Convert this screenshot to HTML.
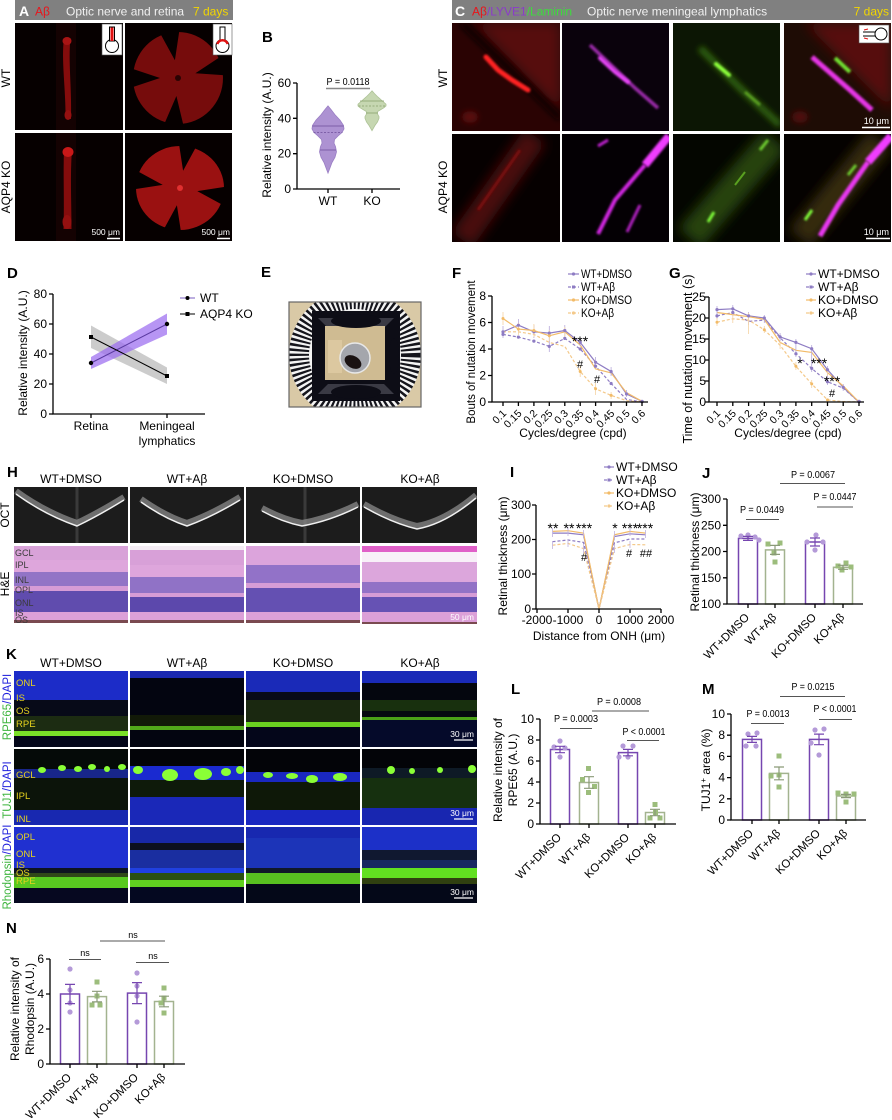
<!DOCTYPE html>
<html><head><meta charset="utf-8"><style>
html,body{margin:0;padding:0;background:#fff;}
svg{display:block;font-family:"Liberation Sans",Arial,sans-serif;}
</style></head><body>
<svg width="892" height="1120" viewBox="0 0 892 1120" xmlns="http://www.w3.org/2000/svg">
<defs>
<filter id="b1" filterUnits="userSpaceOnUse" x="0" y="0" width="892" height="1120"><feGaussianBlur stdDeviation="1"/></filter>
<filter id="b3" filterUnits="userSpaceOnUse" x="0" y="0" width="892" height="1120"><feGaussianBlur stdDeviation="3"/></filter>
<filter id="b6" filterUnits="userSpaceOnUse" x="0" y="0" width="892" height="1120"><feGaussianBlur stdDeviation="6"/></filter>
<clipPath id="cA1"><rect x="15" y="23" width="108" height="107"/></clipPath>
<clipPath id="cA2"><rect x="125" y="23" width="107" height="107"/></clipPath>
<clipPath id="cA3"><rect x="15" y="133" width="108" height="108"/></clipPath>
<clipPath id="cA4"><rect x="125" y="133" width="107" height="108"/></clipPath>
<clipPath id="c11"><rect x="452" y="23" width="108" height="108"/></clipPath>
<clipPath id="c12"><rect x="562" y="23" width="107" height="108"/></clipPath>
<clipPath id="c13"><rect x="673" y="23" width="107" height="108"/></clipPath>
<clipPath id="c14"><rect x="784" y="23" width="107" height="108"/></clipPath>
<clipPath id="c21"><rect x="452" y="134" width="108" height="108"/></clipPath>
<clipPath id="c22"><rect x="562" y="134" width="107" height="108"/></clipPath>
<clipPath id="c23"><rect x="673" y="134" width="107" height="108"/></clipPath>
<clipPath id="c24"><rect x="784" y="134" width="107" height="108"/></clipPath>
<clipPath id="cE"><rect x="289" y="302" width="132" height="105"/></clipPath>
<clipPath id="cH"><rect x="14" y="487" width="463" height="56"/></clipPath>
</defs>

<!-- ===== Panel A ===== -->
<rect x="15" y="0" width="218" height="20" fill="#808080"/>
<text x="19" y="16" font-size="14" font-weight="bold" fill="#fff">A</text>
<text x="35" y="15.5" font-size="12" fill="#e8141b">Aβ</text>
<text x="66" y="15.5" font-size="12" fill="#f0f0f0">Optic nerve and retina</text>
<text x="193" y="15.5" font-size="12" fill="#f2d600">7 days</text>
<text transform="translate(10,78) rotate(-90)" text-anchor="middle" font-size="12">WT</text>
<text transform="translate(10,187) rotate(-90)" text-anchor="middle" font-size="12">AQP4 KO</text>

<g clip-path="url(#cA1)">
<rect x="15" y="23" width="108" height="107" fill="#060000"/>
<rect x="56" y="23" width="20" height="107" fill="#140202"/>
<path d="M64,38 C61,60 66,90 65.5,119 L71,119 C72,90 68,60 70.5,38 Z" fill="#850c0c"/>
<ellipse cx="67" cy="41" rx="4.5" ry="4" fill="#a81414"/>
<ellipse cx="68" cy="115" rx="3.5" ry="5" fill="#951010"/>
</g>
<rect x="102" y="24" width="20" height="31" fill="#fff" stroke="#555" stroke-width="0.6"/>
<circle cx="112" cy="46" r="6.5" fill="#fff" stroke="#000" stroke-width="1"/>
<rect x="109.5" y="27" width="5" height="14" fill="#fff" stroke="#000" stroke-width="1"/>
<rect x="110.5" y="27.5" width="3" height="13.5" fill="#e01010"/>

<g clip-path="url(#cA2)">
<rect x="125" y="23" width="107" height="107" fill="#060000"/>
<ellipse cx="178" cy="78" rx="45" ry="46" fill="#760c0c"/>
<path d="M160,78 L121,91 L121,65 Z M176.4,96 L186,136 L160,134 Z M195.4,73.3 L229.7,50.6 L236.5,76 Z M174.9,60.3 L155.1,24.1 L181,19.6 Z" fill="#060000"/>
<circle cx="178" cy="78" r="3" fill="#2a0303"/>
</g>
<rect x="213" y="24" width="19" height="31" fill="#fff" stroke="#555" stroke-width="0.6"/>
<circle cx="222.5" cy="46" r="6.5" fill="#fff" stroke="#000" stroke-width="1"/>
<rect x="220" y="27" width="5" height="14" fill="#fff" stroke="#000" stroke-width="1"/>
<path d="M217.3,44 A5.5,5.5 0 0 1 227.7,44" stroke="#e01010" stroke-width="2.5" fill="none"/>

<g clip-path="url(#cA3)">
<rect x="15" y="133" width="108" height="108" fill="#060000"/>
<rect x="56" y="133" width="20" height="108" fill="#140202"/>
<path d="M64,150 C63,175 64.5,200 63.5,229 L71.5,229 C71.5,200 70,175 72,150 Z" fill="#850c0c"/>
<ellipse cx="68" cy="152" rx="5.5" ry="5" fill="#c81818"/>
<ellipse cx="67" cy="222" rx="4.5" ry="7" fill="#951010"/>
</g>
<text x="120" y="235" font-size="8.5" fill="#fff" text-anchor="end">500 μm</text>
<path d="M107,238.5 H120" stroke="#fff" stroke-width="1.5"/>

<g clip-path="url(#cA4)">
<rect x="125" y="133" width="107" height="108" fill="#060000"/>
<ellipse cx="180" cy="188" rx="44" ry="42" fill="#9a1111"/>
<path d="M183.1,170.7 L177,130.9 L202.4,135.3 Z M162.7,184.9 L122.9,191 L127.3,165.6 Z M197.3,191.1 L237.1,185 L232.7,210.4 Z M176.9,205.3 L183,245.1 L157.6,240.7 Z" fill="#060000"/>
<circle cx="180" cy="188" r="3" fill="#e03030"/>
</g>
<text x="230" y="235" font-size="8.5" fill="#fff" text-anchor="end">500 μm</text>
<path d="M217,238.5 H230" stroke="#fff" stroke-width="1.5"/>

<!-- ===== Panel B ===== -->
<text x="262" y="42" font-size="15" font-weight="bold">B</text>
<path d="M328,105.9 L331,109.5 L335,114.8 L340,120.1 L343.5,125.4 L344,128.9 L342,132.5 L338,136 L334.5,139.5 L334,143.1 L335.5,146.6 L336.5,151.9 L335,157.2 L332,162.5 L330,167.8 L328,173.1 L326,167.8 L324,162.5 L321,157.2 L319.5,151.9 L320.5,146.6 L322,143.1 L321.5,139.5 L318,136 L314,132.5 L312,128.9 L312.5,125.4 L316,120.1 L321,114.8 L325,109.5 Z" fill="#ad92d2" stroke="#9a7ec4" stroke-width="0.8"/>
<path d="M312.5,126 H343.5 M320,150 H336" stroke="#6d4f9a" stroke-width="0.8"/>
<path d="M313.5,132.5 H342.5" stroke="#6d4f9a" stroke-width="0.8" stroke-dasharray="2,1.5"/>
<path d="M372,90.8 L374.5,93.6 L378,97.1 L382,100.7 L386,104.2 L386,105.9 L384,107.7 L381,109.5 L378,111.3 L377,113 L378,114.8 L379,116.6 L379,118.3 L377.5,121.9 L375,125.4 L372,130.7 L369,125.4 L366.5,121.9 L365,118.3 L365,116.6 L366,114.8 L367,113 L366,111.3 L363,109.5 L360,107.7 L358,105.9 L358,104.2 L362,100.7 L366,97.1 L369.5,93.6 Z" fill="#c6d7b1" stroke="#aec397" stroke-width="0.8"/>
<path d="M360,101 H384 M366,113 H378" stroke="#86a06a" stroke-width="0.8"/>
<path d="M358.5,106 H385.5" stroke="#86a06a" stroke-width="0.8" stroke-dasharray="2,1.5"/>
<path d="M297,83 V189 H400" stroke="#000" stroke-width="1.3" fill="none"/>
<path d="M293,83 H297 M293,118.3 H297 M293,153.7 H297 M293,189 H297 M328,189 V193 M372,189 V193" stroke="#000" stroke-width="1.3"/>
<g font-size="12" text-anchor="end">
<text x="291" y="87">60</text><text x="291" y="122.3">40</text><text x="291" y="157.7">20</text><text x="291" y="193">0</text>
</g>
<text transform="translate(271,135) rotate(-90)" text-anchor="middle" font-size="12">Relative intensity (A.U.)</text>
<text x="328" y="205" font-size="12" text-anchor="middle">WT</text>
<text x="372" y="205" font-size="12" text-anchor="middle">KO</text>
<text x="348" y="85" font-size="10" text-anchor="middle" textLength="43" lengthAdjust="spacingAndGlyphs">P = 0.0118</text>
<path d="M326,88.5 H370" stroke="#888" stroke-width="1.5"/>

<!-- ===== Panel C ===== -->
<text transform="translate(447,78) rotate(-90)" text-anchor="middle" font-size="12">WT</text>
<text transform="translate(447,187) rotate(-90)" text-anchor="middle" font-size="12">AQP4 KO</text>
<rect x="452" y="0" width="439" height="20" fill="#808080"/>
<text x="455" y="16" font-size="14" font-weight="bold" fill="#fff">C</text>
<text x="472" y="15.5" font-size="12"><tspan fill="#e8141b">Aβ</tspan><tspan fill="#8a3cc8">/LYVE1</tspan><tspan fill="#3ddc3d">/Laminin</tspan></text>
<text x="587" y="15.5" font-size="12" fill="#f0f0f0">Optic nerve meningeal lymphatics</text>
<text x="889" y="15.5" font-size="12" fill="#f2d600" text-anchor="end">7 days</text>

<g clip-path="url(#c11)">
<rect x="452" y="23" width="108" height="108" fill="#2a0303"/>
<path d="M475,23 L560,23 L560,110 Z" fill="#560a0a" filter="url(#b6)"/>
<path d="M462,23 L560,118" stroke="#100000" stroke-width="7" filter="url(#b3)"/>
<path d="M486,57 L498,70 L512,80 L528,90" stroke="#ff2222" stroke-width="5" fill="none" stroke-linecap="round" filter="url(#b1)"/>
<ellipse cx="470" cy="117" rx="8" ry="6" fill="#5a0808" filter="url(#b3)"/>
</g>
<g clip-path="url(#c12)">
<rect x="562" y="23" width="107" height="108" fill="#0a020c"/>
<path d="M590,45 L612,66 L635,88 L658,108" stroke="#9a2aa8" stroke-width="3.5" fill="none" filter="url(#b1)"/>
<path d="M600,58 L615,72 L628,82" stroke="#e545f5" stroke-width="4" fill="none" stroke-linecap="round" filter="url(#b1)"/>
</g>
<g clip-path="url(#c13)">
<rect x="673" y="23" width="107" height="108" fill="#0c1604"/>
<path d="M700,48 L740,88 L780,125" stroke="#2f5e0e" stroke-width="7" fill="none" filter="url(#b3)"/>
<path d="M716,64 L729,75" stroke="#8cff3a" stroke-width="4" fill="none" stroke-linecap="round" filter="url(#b1)"/>
<path d="M745,92 L760,105" stroke="#5aa020" stroke-width="3" fill="none" filter="url(#b1)"/>
</g>
<g clip-path="url(#c14)">
<rect x="784" y="23" width="107" height="108" fill="#1e0c05"/>
<path d="M805,23 L891,23 L891,110 Z" fill="#560a0a" filter="url(#b6)"/>
<path d="M812,57 L850,90 L872,110" stroke="#e535e5" stroke-width="5" fill="none" filter="url(#b1)"/>
<path d="M835,58 L850,72" stroke="#70e030" stroke-width="4" fill="none" filter="url(#b1)"/>
<ellipse cx="800" cy="117" rx="8" ry="6" fill="#500808" filter="url(#b3)"/>
</g>
<rect x="859" y="25" width="30" height="18" fill="#fff" stroke="#555" stroke-width="0.6"/>
<path d="M863,32 H876 M863,36 H876" stroke="#000" stroke-width="1"/>
<circle cx="881" cy="34" r="6" fill="#fff" stroke="#000" stroke-width="1"/>
<path d="M864,30 L868,29 M864,38 L868,39" stroke="#e01010" stroke-width="1"/>
<text x="889" y="124" font-size="9" fill="#fff" text-anchor="end">10 μm</text>
<path d="M862,127.5 H890" stroke="#fff" stroke-width="1.5"/>

<g clip-path="url(#c21)">
<rect x="452" y="134" width="108" height="108" fill="#060000"/>
<path d="M462,240 L535,136" stroke="#4a0707" stroke-width="26" fill="none" filter="url(#b6)"/>
<path d="M478,210 L520,150" stroke="#7c1010" stroke-width="3" fill="none" filter="url(#b1)"/>
</g>
<g clip-path="url(#c22)">
<rect x="562" y="134" width="107" height="108" fill="#040004"/>
<path d="M669,136 L645,165" stroke="#f03cff" stroke-width="8" fill="none" filter="url(#b1)"/>
<path d="M645,165 L615,200 L598,234" stroke="#d028e0" stroke-width="4" fill="none" filter="url(#b1)"/>
<path d="M640,205 L627,232" stroke="#b020c0" stroke-width="3" fill="none" filter="url(#b1)"/>
<path d="M608,140 L598,146" stroke="#c020d0" stroke-width="3" fill="none" filter="url(#b1)"/>
</g>
<g clip-path="url(#c23)">
<rect x="673" y="134" width="107" height="108" fill="#040600"/>
<path d="M690,238 L775,140" stroke="#264209" stroke-width="30" fill="none" filter="url(#b6)"/>
<path d="M708,222 L714,212" stroke="#80ff3a" stroke-width="3" fill="none" filter="url(#b1)"/>
<path d="M735,185 L745,172" stroke="#5aa020" stroke-width="2" fill="none"/>
<path d="M760,150 L768,140" stroke="#70d030" stroke-width="3" fill="none" filter="url(#b1)"/>
</g>
<g clip-path="url(#c24)">
<rect x="784" y="134" width="107" height="108" fill="#050200"/>
<path d="M800,238 L880,140" stroke="#342c08" stroke-width="28" fill="none" filter="url(#b6)"/>
<path d="M891,136 L868,162" stroke="#f03cff" stroke-width="8" fill="none" filter="url(#b1)"/>
<path d="M868,162 L838,205 L820,236" stroke="#e838f0" stroke-width="5" fill="none" filter="url(#b1)"/>
<path d="M805,220 L812,210" stroke="#80ff3a" stroke-width="3" fill="none" filter="url(#b1)"/>
<path d="M848,175 L856,165" stroke="#70d030" stroke-width="3" fill="none" filter="url(#b1)"/>
</g>
<text x="889" y="235" font-size="9" fill="#fff" text-anchor="end">10 μm</text>
<path d="M866,238.5 H890" stroke="#fff" stroke-width="1.5"/>

<!-- ===== Panel D ===== -->
<text x="7" y="278" font-size="15" font-weight="bold">D</text>
<path d="M91,325.5 L167,367.5 L167,384 L91,348 Z" fill="#b0b0b0" opacity="0.65"/>
<path d="M91,357 L167,313.5 L167,334.5 L91,369 Z" fill="#9b6cf0" opacity="0.72"/>
<path d="M91,363 L167,324" stroke="#5a3aa0" stroke-width="1"/>
<path d="M91,337 L167,376" stroke="#000" stroke-width="1"/>
<circle cx="91" cy="363" r="2.2"/><circle cx="167" cy="324" r="2.2"/>
<rect x="89" y="335" width="4" height="4"/><rect x="165" y="374" width="4" height="4"/>
<path d="M53,294 V414 H205" stroke="#000" stroke-width="1.3" fill="none"/>
<path d="M49,294 H53 M49,324 H53 M49,354 H53 M49,384 H53 M49,414 H53 M91,414 V418 M167,414 V418" stroke="#000" stroke-width="1.3"/>
<g font-size="12" text-anchor="end">
<text x="47" y="298">80</text><text x="47" y="328">60</text><text x="47" y="358">40</text><text x="47" y="388">20</text><text x="47" y="418">0</text>
</g>
<text transform="translate(27,353) rotate(-90)" text-anchor="middle" font-size="12">Relative intensity (A.U.)</text>
<text x="91" y="430" font-size="12" text-anchor="middle">Retina</text>
<text x="167" y="430" font-size="12" text-anchor="middle">Meningeal</text>
<text x="167" y="445" font-size="12" text-anchor="middle">lymphatics</text>
<path d="M180,298 H195" stroke="#7a5cc0" stroke-width="1"/><circle cx="187.5" cy="298" r="2"/>
<text x="200" y="302" font-size="12">WT</text>
<path d="M180,314 H195" stroke="#000" stroke-width="1"/><rect x="185.5" y="312" width="4" height="4"/>
<text x="200" y="318" font-size="12">AQP4 KO</text>

<!-- ===== Panel E ===== -->
<text x="261" y="277" font-size="15" font-weight="bold">E</text>
<g clip-path="url(#cE)">
<rect x="289" y="302" width="132" height="105" fill="#d9c9a6"/>
<circle cx="355" cy="355" r="66" fill="#f4f4f4"/>
<circle cx="355" cy="355" r="56" fill="none" stroke="#15151c" stroke-width="20" stroke-dasharray="2.3 2.3"/>
<rect x="312" y="311" width="88" height="90" fill="#0d0d16"/>
<path d="M318,318 L394,318 L384,328 L328,328 Z M318,394 L394,394 L384,384 L328,384 Z" fill="#3a3a44"/>
<rect x="325" y="326" width="60" height="54" fill="#cfbb92"/>
<rect x="328" y="340" width="14" height="33" fill="#dcc8a0"/>
<ellipse cx="356" cy="321" rx="25" ry="7" fill="#0d0d16"/>
<ellipse cx="356" cy="392" rx="25" ry="7" fill="#0d0d16"/>
<ellipse cx="318" cy="356" rx="5" ry="18" fill="#0d0d16"/>
<ellipse cx="394" cy="356" rx="5" ry="18" fill="#0d0d16"/>
<circle cx="355" cy="358" r="15" fill="#a4a6ac" stroke="#e8e8e8" stroke-width="1.5"/>
<ellipse cx="353" cy="362" rx="9" ry="6" fill="#1a1212" transform="rotate(30 353 362)"/>
</g>
<rect x="289" y="302" width="132" height="105" fill="none" stroke="#666" stroke-width="1.2"/>

<!-- ===== Panel F ===== -->
<text x="452" y="278" font-size="15" font-weight="bold">F</text>
<g fill="none" stroke-width="1.2">
<polyline points="503,331.8 518.4,325.2 533.9,331.8 549.3,333.1 564.8,330.5 580.2,342.4 595.6,362.3 611.1,371.5 626.5,394 642,401.3" stroke="#8e7cc3"/>
<polyline points="503,334.4 518.4,337.1 533.9,341.1 549.3,346.4 564.8,338.4 580.2,349 595.6,366.2 611.1,383.5 626.5,399.4 642,402" stroke="#8e7cc3" stroke-dasharray="3,2"/>
<polyline points="503,318.5 518.4,329.1 533.9,330.5 549.3,335.8 564.8,331.8 580.2,345 595.6,368.9 611.1,372.9 626.5,392.7 642,401.3" stroke="#f2bb68"/>
<polyline points="503,331.8 518.4,331.8 533.9,334.4 549.3,342.4 564.8,346.4 580.2,371.5 595.6,388.8 611.1,395.4 626.5,400.7 642,402" stroke="#f4c98a" stroke-dasharray="3,2"/>
<path d="M503,326V338 M518.4,319V331 M533.9,325V338 M549.3,326V352 M564.8,325V336 M580.2,338V346 M595.6,357V368 M611.1,367V376 M626.5,390V397" stroke="#b7a9da" stroke-width="0.8"/>
<path d="M503,312V325 M518.4,323V335 M533.9,324V337 M549.3,330V341 M564.8,327V337 M580.2,366V377 M595.6,383V395 M611.1,392V399" stroke="#f5d3a3" stroke-width="0.8"/>
</g>
<g fill="#8e7cc3">
<circle cx="503" cy="331.8" r="1.6"/><circle cx="518.4" cy="325.2" r="1.6"/><circle cx="533.9" cy="331.8" r="1.6"/><circle cx="549.3" cy="333.1" r="1.6"/><circle cx="564.8" cy="330.5" r="1.6"/><circle cx="580.2" cy="342.4" r="1.6"/><circle cx="595.6" cy="362.3" r="1.6"/><circle cx="611.1" cy="371.5" r="1.6"/><circle cx="626.5" cy="394" r="1.6"/>
<circle cx="503" cy="334.4" r="1.6"/><circle cx="518.4" cy="337.1" r="1.6"/><circle cx="533.9" cy="341.1" r="1.6"/><circle cx="549.3" cy="346.4" r="1.6"/><circle cx="564.8" cy="338.4" r="1.6"/><circle cx="580.2" cy="349" r="1.6"/><circle cx="595.6" cy="366.2" r="1.6"/><circle cx="611.1" cy="383.5" r="1.6"/><circle cx="642" cy="401.5" r="1.8"/>
</g>
<g fill="#f2bb68">
<circle cx="503" cy="318.5" r="1.5"/><circle cx="518.4" cy="329.1" r="1.5"/><circle cx="533.9" cy="330.5" r="1.5"/><circle cx="549.3" cy="335.8" r="1.5"/><circle cx="580.2" cy="371.5" r="1.5"/><circle cx="595.6" cy="388.8" r="1.5"/><circle cx="611.1" cy="395.4" r="1.5"/>
</g>
<path d="M492,296 V402 H648" stroke="#000" stroke-width="1.3" fill="none"/>
<path d="M488,296 H492 M488,322.5 H492 M488,349 H492 M488,375.5 H492 M488,402 H492 M503,402V406 M518.4,402V406 M533.9,402V406 M549.3,402V406 M564.8,402V406 M580.2,402V406 M595.6,402V406 M611.1,402V406 M626.5,402V406 M642,402V406" stroke="#000" stroke-width="1.3"/>
<g font-size="12" text-anchor="end">
<text x="486" y="300">8</text><text x="486" y="326.5">6</text><text x="486" y="353">4</text><text x="486" y="379.5">2</text><text x="486" y="406">0</text>
</g>
<g font-size="10.5" text-anchor="end">
<text transform="translate(507,414) rotate(-45)">0.1</text>
<text transform="translate(522.4,414) rotate(-45)">0.15</text>
<text transform="translate(537.9,414) rotate(-45)">0.2</text>
<text transform="translate(553.3,414) rotate(-45)">0.25</text>
<text transform="translate(568.8,414) rotate(-45)">0.3</text>
<text transform="translate(584.2,414) rotate(-45)">0.35</text>
<text transform="translate(599.6,414) rotate(-45)">0.4</text>
<text transform="translate(615.1,414) rotate(-45)">0.45</text>
<text transform="translate(630.5,414) rotate(-45)">0.5</text>
<text transform="translate(646,414) rotate(-45)">0.6</text>
</g>
<text x="573" y="437" font-size="12" text-anchor="middle">Cycles/degree (cpd)</text>
<text transform="translate(475,352) rotate(-90)" text-anchor="middle" font-size="11.5">Bouts of nutation movement</text>
<text x="580" y="346" font-size="14" text-anchor="middle">***</text>
<text x="580" y="368" font-size="11" text-anchor="middle">#</text>
<text x="597" y="383" font-size="11" text-anchor="middle">#</text>
<g font-size="12">
<path d="M568,274 H579" stroke="#8e7cc3" stroke-width="1.2"/><circle cx="573.5" cy="274" r="1.6" fill="#8e7cc3"/>
<text x="581" y="278" textLength="51" lengthAdjust="spacingAndGlyphs">WT+DMSO</text>
<path d="M568,287 H579" stroke="#8e7cc3" stroke-width="1.2" stroke-dasharray="3,2"/><rect x="572" y="285.5" width="3" height="3" fill="#8e7cc3"/>
<text x="581" y="291" textLength="34" lengthAdjust="spacingAndGlyphs">WT+Aβ</text>
<path d="M568,300 H579" stroke="#f2bb68" stroke-width="1.2"/><circle cx="573.5" cy="300" r="1.6" fill="#f2bb68"/>
<text x="581" y="304" textLength="51" lengthAdjust="spacingAndGlyphs">KO+DMSO</text>
<path d="M568,313 H579" stroke="#f4c98a" stroke-width="1.2" stroke-dasharray="3,2"/><circle cx="573.5" cy="313" r="1.6" fill="#f4c98a"/>
<text x="581" y="317" textLength="33" lengthAdjust="spacingAndGlyphs">KO+Aβ</text>
</g>

<!-- ===== Panel G ===== -->
<text x="669" y="278" font-size="15" font-weight="bold">G</text>
<g fill="none" stroke-width="1.2">
<polyline points="717,309.6 732.8,308.8 748.6,315.9 764.3,318 780.1,336.9 795.9,342.4 811.7,348.7 827.5,369.7 843.2,387.3 859,402" stroke="#8e7cc3"/>
<polyline points="717,315.9 732.8,312.5 748.6,321.4 764.3,320.1 780.1,337.7 795.9,353.7 811.7,368.4 827.5,381.8 843.2,388.1 859,402" stroke="#8e7cc3" stroke-dasharray="3,2"/>
<polyline points="717,312.5 732.8,314.6 748.6,316.7 764.3,319.3 780.1,342.4 795.9,350.3 811.7,352.4 827.5,372.6 843.2,386 859,402" stroke="#f2bb68"/>
<polyline points="717,322.2 732.8,318.8 748.6,320.1 764.3,329.8 780.1,345.3 795.9,366.3 811.7,383.9 827.5,399.9 843.2,401.6 859,402" stroke="#f4c98a" stroke-dasharray="3,2"/>
<path d="M717,306V319 M732.8,305V316 M748.6,312V325 M764.3,315V323 M780.1,333V341 M795.9,339V357 M811.7,345V372 M827.5,366V385 M843.2,384V391" stroke="#b7a9da" stroke-width="0.8"/>
<path d="M717,318V326 M732.8,314V323 M748.6,313V334 M764.3,326V333 M780.1,341V349 M795.9,362V370 M811.7,380V388 M827.5,369V376" stroke="#f5d3a3" stroke-width="0.8"/>
</g>
<g fill="#8e7cc3">
<circle cx="717" cy="309.6" r="1.6"/><circle cx="732.8" cy="308.8" r="1.6"/><circle cx="748.6" cy="315.9" r="1.6"/><circle cx="764.3" cy="318" r="1.6"/><circle cx="780.1" cy="336.9" r="1.6"/><circle cx="795.9" cy="342.4" r="1.6"/><circle cx="811.7" cy="348.7" r="1.6"/><circle cx="827.5" cy="369.7" r="1.6"/><circle cx="843.2" cy="387.3" r="1.6"/>
<circle cx="717" cy="315.9" r="1.6"/><circle cx="732.8" cy="312.5" r="1.6"/><circle cx="795.9" cy="353.7" r="1.6"/><circle cx="811.7" cy="368.4" r="1.6"/><circle cx="827.5" cy="381.8" r="1.6"/><circle cx="859" cy="401.5" r="1.8"/>
</g>
<g fill="#f2bb68">
<circle cx="717" cy="322.2" r="1.5"/><circle cx="764.3" cy="329.8" r="1.5"/><circle cx="795.9" cy="366.3" r="1.5"/><circle cx="811.7" cy="383.9" r="1.5"/><circle cx="827.5" cy="399.9" r="1.5"/>
</g>
<path d="M709,297 V402 H864" stroke="#000" stroke-width="1.3" fill="none"/>
<path d="M705,297 H709 M705,318 H709 M705,339 H709 M705,360 H709 M705,381 H709 M705,402 H709 M717,402V406 M732.8,402V406 M748.6,402V406 M764.3,402V406 M780.1,402V406 M795.9,402V406 M811.7,402V406 M827.5,402V406 M843.2,402V406 M859,402V406" stroke="#000" stroke-width="1.3"/>
<g font-size="12" text-anchor="end">
<text x="706" y="301" textLength="14" lengthAdjust="spacingAndGlyphs">25</text><text x="706" y="322" textLength="14" lengthAdjust="spacingAndGlyphs">20</text><text x="706" y="343" textLength="14" lengthAdjust="spacingAndGlyphs">15</text><text x="706" y="364" textLength="14" lengthAdjust="spacingAndGlyphs">10</text><text x="706" y="385">5</text><text x="706" y="406">0</text>
</g>
<g font-size="10.5" text-anchor="end">
<text transform="translate(721,414) rotate(-45)">0.1</text>
<text transform="translate(736.8,414) rotate(-45)">0.15</text>
<text transform="translate(752.6,414) rotate(-45)">0.2</text>
<text transform="translate(768.3,414) rotate(-45)">0.25</text>
<text transform="translate(784.1,414) rotate(-45)">0.3</text>
<text transform="translate(799.9,414) rotate(-45)">0.35</text>
<text transform="translate(815.7,414) rotate(-45)">0.4</text>
<text transform="translate(831.5,414) rotate(-45)">0.45</text>
<text transform="translate(847.2,414) rotate(-45)">0.5</text>
<text transform="translate(863,414) rotate(-45)">0.6</text>
</g>
<text x="788" y="437" font-size="12" text-anchor="middle">Cycles/degree (cpd)</text>
<text transform="translate(692,359) rotate(-90)" text-anchor="middle" font-size="12.5">Time of nutation movement (s)</text>
<text x="800" y="368" font-size="14" text-anchor="middle">*</text>
<text x="819" y="368" font-size="14" text-anchor="middle">***</text>
<text x="832" y="386" font-size="14" text-anchor="middle">***</text>
<text x="832" y="397" font-size="11" text-anchor="middle">#</text>
<g font-size="12">
<path d="M806,274 H816" stroke="#8e7cc3" stroke-width="1.2"/><circle cx="811" cy="274" r="1.6" fill="#8e7cc3"/>
<text x="818" y="278">WT+DMSO</text>
<path d="M806,287 H816" stroke="#8e7cc3" stroke-width="1.2" stroke-dasharray="3,2"/><rect x="809.5" y="285.5" width="3" height="3" fill="#8e7cc3"/>
<text x="818" y="291">WT+Aβ</text>
<path d="M806,300 H816" stroke="#f2bb68" stroke-width="1.2"/><circle cx="811" cy="300" r="1.6" fill="#f2bb68"/>
<text x="818" y="304">KO+DMSO</text>
<path d="M806,313 H816" stroke="#f4c98a" stroke-width="1.2" stroke-dasharray="3,2"/><circle cx="811" cy="313" r="1.6" fill="#f4c98a"/>
<text x="818" y="317">KO+Aβ</text>
</g>

<!-- ===== Panel H ===== -->
<text x="7" y="477" font-size="15" font-weight="bold">H</text>
<g font-size="12" text-anchor="middle">
<text x="71" y="483">WT+DMSO</text><text x="187" y="483">WT+Aβ</text><text x="303" y="483">KO+DMSO</text><text x="420" y="483">KO+Aβ</text>
</g>
<text transform="translate(9,515) rotate(-90)" text-anchor="middle" font-size="12">OCT</text>
<text transform="translate(9,584) rotate(-90)" text-anchor="middle" font-size="12">H&amp;E</text>
<g>
<rect x="14" y="487" width="114" height="56" fill="#1c1c1c"/>
<rect x="130" y="487" width="114" height="56" fill="#1c1c1c"/>
<rect x="246" y="487" width="114" height="56" fill="#1c1c1c"/>
<rect x="362" y="487" width="115" height="56" fill="#1c1c1c"/>
<g clip-path="url(#cH)" fill="none">
<path d="M77,487 V543 M305,487 V543" stroke="#3a3a3a" stroke-width="3"/>
<path d="M16,491 Q45,512 77,523 Q98,513 124,497" stroke="#8a8a8a" stroke-width="6" opacity="0.75"/>
<path d="M16,494 Q45,515 77,526 Q98,516 124,500" stroke="#f0f0f0" stroke-width="1.5"/>
<path d="M141,499 Q165,516 187,523 Q212,514 240,497" stroke="#8a8a8a" stroke-width="6" opacity="0.75"/>
<path d="M141,502 Q165,519 187,526 Q212,517 240,500" stroke="#f0f0f0" stroke-width="1.5"/>
<path d="M262,508 Q282,519 302,523 Q330,518 358,504" stroke="#8a8a8a" stroke-width="6" opacity="0.75"/>
<path d="M262,511 Q282,522 302,526 Q330,521 358,507" stroke="#f0f0f0" stroke-width="1.5"/>
<path d="M364,504 Q392,520 417,526 Q445,521 476,495" stroke="#8a8a8a" stroke-width="6" opacity="0.75"/>
<path d="M364,507 Q392,523 417,529 Q445,524 476,498" stroke="#f0f0f0" stroke-width="1.5"/>
</g>
</g>
<!-- H&E col1 -->
<rect x="14" y="546" width="114" height="14" fill="#d8a2d8"/>
<rect x="14" y="560" width="114" height="12" fill="#dea6dc"/>
<rect x="14" y="572" width="114" height="14" fill="#9274c6"/>
<rect x="14" y="586" width="114" height="5" fill="#d69cd6"/>
<rect x="14" y="591" width="114" height="21" fill="#604cae"/>
<rect x="14" y="612" width="114" height="8" fill="#dca0d8"/>
<rect x="14" y="620" width="114" height="3" fill="#7a4a50"/>
<!-- col2 -->
<rect x="130" y="546" width="114" height="4" fill="#f4ecf4"/>
<rect x="130" y="550" width="114" height="15" fill="#d8a0d8"/>
<rect x="130" y="565" width="114" height="12" fill="#dea6dc"/>
<rect x="130" y="577" width="114" height="16" fill="#9072c6"/>
<rect x="130" y="593" width="114" height="4" fill="#d69cd6"/>
<rect x="130" y="597" width="114" height="15" fill="#5c48ac"/>
<rect x="130" y="612" width="114" height="8" fill="#dca0d8"/>
<rect x="130" y="620" width="114" height="3" fill="#7a4a50"/>
<!-- col3 -->
<rect x="246" y="546" width="114" height="19" fill="#dca4dc"/>
<rect x="246" y="565" width="114" height="18" fill="#9272c8"/>
<rect x="246" y="583" width="114" height="5" fill="#d69cd6"/>
<rect x="246" y="588" width="114" height="24" fill="#6450b2"/>
<rect x="246" y="612" width="114" height="8" fill="#dca0d8"/>
<rect x="246" y="620" width="114" height="3" fill="#7a4a50"/>
<!-- col4 -->
<rect x="362" y="546" width="115" height="6" fill="#e060c8"/>
<rect x="362" y="552" width="115" height="10" fill="#f8f0f8"/>
<rect x="362" y="562" width="115" height="20" fill="#dca6dc"/>
<rect x="362" y="582" width="115" height="11" fill="#9272c6"/>
<rect x="362" y="593" width="115" height="4" fill="#d69cd6"/>
<rect x="362" y="597" width="115" height="15" fill="#6652b4"/>
<rect x="362" y="612" width="115" height="10" fill="#dca0d8"/>
<rect x="362" y="622" width="115" height="2" fill="#7a4a50"/>
<g font-size="9" fill="#3a3a3a">
<text x="15" y="556">GCL</text><text x="15" y="568">IPL</text><text x="15" y="583">INL</text><text x="15" y="593">OPL</text><text x="15" y="606">ONL</text><text x="15" y="616">IS</text><text x="15" y="623">OS</text>
</g>
<text x="474" y="620" font-size="8.5" fill="#fff" text-anchor="end">50 μm</text>

<!-- ===== Panel I ===== -->
<text x="510" y="477" font-size="15" font-weight="bold">I</text>
<g fill="none" stroke-width="1.2">
<polyline points="552.5,533.1 568,533.1 583.5,534.8 599,609 614.5,536.5 630,533.8 645.5,534.8" stroke="#8e7cc3"/>
<polyline points="552.5,541.7 568,540 583.5,542.4 599,609 614.5,542.8 630,539 645.5,539" stroke="#8e7cc3" stroke-dasharray="3,2"/>
<polyline points="552.5,531.4 568,530.7 583.5,533.1 599,609 614.5,534.8 630,531.4 645.5,533.1" stroke="#f2bb68"/>
<polyline points="552.5,545.2 568,543.4 583.5,548.6 599,609 614.5,548.6 630,544.5 645.5,544.8" stroke="#f4c98a" stroke-dasharray="3,2"/>
<path d="M552.5,528V537 M568,527V536 M583.5,530V538 M614.5,531V540 M630,528V536 M645.5,530V538 M552.5,541V549 M568,539V547 M583.5,544V553 M614.5,544V553 M630,541V548" stroke="#c0b2de" stroke-width="0.8"/>
</g>
<path d="M536,505 V609 H661" stroke="#000" stroke-width="1.3" fill="none"/>
<path d="M532,505 H536 M532,539.5 H536 M532,574 H536 M532,609 H536 M537,609V613 M568,609V613 M599,609V613 M630,609V613 M661,609V613" stroke="#000" stroke-width="1.3"/>
<g font-size="12" text-anchor="end">
<text x="531" y="509">300</text><text x="531" y="543.5">200</text><text x="531" y="578">100</text><text x="531" y="613">0</text>
</g>
<g font-size="12" text-anchor="middle">
<text x="537" y="624">-2000</text><text x="568" y="624">-1000</text><text x="599" y="624">0</text><text x="630" y="624">1000</text><text x="661" y="624">2000</text>
</g>
<text x="599" y="640" font-size="12" text-anchor="middle">Distance from ONH (μm)</text>
<text transform="translate(507,556) rotate(-90)" text-anchor="middle" font-size="12">Retinal thickness (μm)</text>
<g font-size="14" text-anchor="middle">
<text x="553" y="533">**</text><text x="569" y="533">**</text><text x="584" y="533">***</text>
<text x="615" y="533">*</text><text x="630" y="533">***</text><text x="645" y="533">***</text>
</g>
<g font-size="11" text-anchor="middle">
<text x="584" y="561">#</text><text x="629" y="557">#</text><text x="646" y="557">##</text>
</g>
<g font-size="12">
<path d="M604,467 H614" stroke="#8e7cc3" stroke-width="1.2"/><circle cx="609" cy="467" r="1.6" fill="#8e7cc3"/>
<text x="616" y="471">WT+DMSO</text>
<path d="M604,480 H614" stroke="#8e7cc3" stroke-width="1.2" stroke-dasharray="3,2"/><rect x="607.5" y="478.5" width="3" height="3" fill="#8e7cc3"/>
<text x="616" y="484">WT+Aβ</text>
<path d="M604,493 H614" stroke="#f2bb68" stroke-width="1.2"/><circle cx="609" cy="493" r="1.6" fill="#f2bb68"/>
<text x="616" y="497">KO+DMSO</text>
<path d="M604,506 H614" stroke="#f4c98a" stroke-width="1.2" stroke-dasharray="3,2"/><circle cx="609" cy="506" r="1.6" fill="#f4c98a"/>
<text x="616" y="510">KO+Aβ</text>
</g>

<!-- ===== Panel J ===== -->
<text x="702" y="478" font-size="15" font-weight="bold">J</text>
<g stroke-width="1.5" fill="#fff">
<rect x="738.5" y="538.4" width="19" height="65.6" stroke="#7646b0"/>
<rect x="765.5" y="549.9" width="19" height="54.1" stroke="#a3b38f"/>
<rect x="805.5" y="542" width="19" height="62" stroke="#7646b0"/>
<rect x="833.5" y="567.3" width="19" height="36.7" stroke="#a3b38f"/>
</g>
<g fill="#b49ad8"><circle cx="741" cy="536" r="2.6"/><circle cx="748" cy="535" r="2.6"/><circle cx="755" cy="537" r="2.6"/><circle cx="759" cy="540" r="2.6"/>
<circle cx="816" cy="535" r="2.6"/><circle cx="807" cy="542" r="2.6"/><circle cx="823" cy="542" r="2.6"/><circle cx="815" cy="550" r="2.6"/></g>
<g fill="#9cbd7c"><rect x="765.5" y="541.5" width="5" height="5"/><rect x="777.5" y="540.5" width="5" height="5"/><rect x="771.5" y="550.5" width="5" height="5"/><rect x="772.5" y="559.5" width="5" height="5"/>
<rect x="835.5" y="563.5" width="5" height="5"/><rect x="843.5" y="560.5" width="5" height="5"/><rect x="848.5" y="564.5" width="5" height="5"/><rect x="839.5" y="567.5" width="5" height="5"/></g>
<path d="M743,536.4H753 M748,536.4V540.4 M743,540.4H753 M810,538H820 M815,538V546 M810,546H820" stroke="#7646b0" stroke-width="1.2"/>
<path d="M770,545.4H780 M775,545.4V554.4 M770,554.4H780 M838,565.3H848 M843,565.3V569.3 M838,569.3H848" stroke="#8a9a78" stroke-width="1.2"/>
<path d="M727,499 V604 H863" stroke="#000" stroke-width="1.3" fill="none"/>
<path d="M723,499 H727 M723,525.3 H727 M723,551.5 H727 M723,577.8 H727 M723,604 H727 M748,604V608 M775,604V608 M815,604V608 M843,604V608" stroke="#000" stroke-width="1.3"/>
<g font-size="12" text-anchor="end">
<text x="721" y="503">300</text><text x="721" y="529.3">250</text><text x="721" y="555.5">200</text><text x="721" y="581.8">150</text><text x="721" y="608">100</text>
</g>
<text transform="translate(699,552) rotate(-90)" text-anchor="middle" font-size="12">Retinal thickness (μm)</text>
<g font-size="11.5" text-anchor="end">
<text transform="translate(750,618) rotate(-45)">WT+DMSO</text>
<text transform="translate(777,618) rotate(-45)">WT+Aβ</text>
<text transform="translate(817,618) rotate(-45)">KO+DMSO</text>
<text transform="translate(845,618) rotate(-45)">KO+Aβ</text>
</g>
<g font-size="10" text-anchor="middle">
<text x="762" y="513" textLength="44" lengthAdjust="spacingAndGlyphs">P = 0.0449</text>
<text x="835" y="500" textLength="43" lengthAdjust="spacingAndGlyphs">P = 0.0447</text>
<text x="813" y="478" textLength="44" lengthAdjust="spacingAndGlyphs">P = 0.0067</text>
</g>
<path d="M746,519.5 H779 M817,507 H853 M780,483.5 H845" stroke="#555" stroke-width="1"/>

<!-- ===== Panel K ===== -->
<text x="6" y="659" font-size="15" font-weight="bold">K</text>
<g font-size="12" text-anchor="middle">
<text x="71" y="667">WT+DMSO</text><text x="187" y="667">WT+Aβ</text><text x="303" y="667">KO+DMSO</text><text x="420" y="667">KO+Aβ</text>
</g>
<g font-size="11.5" text-anchor="middle">
<text transform="translate(11,707) rotate(-90)"><tspan fill="#3cb43c">RPE65</tspan><tspan fill="#2222dd">/DAPI</tspan></text>
<text transform="translate(11,790) rotate(-90)"><tspan fill="#3cb43c">TUJ1</tspan><tspan fill="#2222dd">/DAPI</tspan></text>
<text transform="translate(11,867) rotate(-90)"><tspan fill="#3cb43c">Rhodopsin</tspan><tspan fill="#2222dd">/DAPI</tspan></text>
</g>
<!-- row1 -->
<rect x="14" y="671" width="114" height="76" fill="#04071a"/>
<rect x="14" y="671" width="114" height="29" fill="#1c2cc8"/>
<rect x="14" y="700" width="114" height="16" fill="#070a18"/>
<rect x="14" y="716" width="114" height="15" fill="#1c2c12"/>
<rect x="14" y="731" width="114" height="5" fill="#7ae028"/>
<rect x="130" y="671" width="114" height="76" fill="#030510"/>
<rect x="130" y="671" width="114" height="7" fill="#1a28b0"/>
<rect x="130" y="715" width="114" height="11" fill="#121a08"/>
<rect x="130" y="726" width="114" height="4" fill="#52a81a"/>
<rect x="246" y="671" width="114" height="76" fill="#04061a"/>
<rect x="246" y="671" width="114" height="21" fill="#1a2ab8"/>
<rect x="246" y="692" width="114" height="8" fill="#080a18"/>
<rect x="246" y="700" width="114" height="22" fill="#1a2810"/>
<rect x="246" y="722" width="114" height="5" fill="#6ad020"/>
<rect x="362" y="671" width="115" height="76" fill="#050a2a"/>
<rect x="362" y="671" width="115" height="12" fill="#1a2ab8"/>
<rect x="362" y="683" width="115" height="17" fill="#04060e"/>
<rect x="362" y="700" width="115" height="11" fill="#18300e"/>
<rect x="362" y="711" width="115" height="6" fill="#050810"/>
<rect x="362" y="717" width="115" height="3" fill="#4aa018"/>
<!-- row2 -->
<rect x="14" y="749" width="114" height="76" fill="#050a08"/>
<rect x="14" y="769" width="114" height="9" fill="#18268a"/>
<rect x="14" y="778" width="114" height="32" fill="#0c140a"/>
<rect x="14" y="810" width="114" height="15" fill="#1828b0"/>
<g fill="#8aff36"><ellipse cx="42" cy="770" rx="4" ry="3"/><ellipse cx="62" cy="768" rx="4" ry="3"/><ellipse cx="78" cy="769" rx="4" ry="3"/><ellipse cx="92" cy="767" rx="4" ry="3"/><ellipse cx="107" cy="769" rx="3" ry="3"/><ellipse cx="122" cy="767" rx="4" ry="3"/></g>
<rect x="130" y="749" width="114" height="76" fill="#030408"/>
<rect x="130" y="766" width="114" height="14" fill="#1a2ad0"/>
<rect x="130" y="780" width="114" height="17" fill="#0e1a0a"/>
<rect x="130" y="797" width="114" height="28" fill="#1a28b8"/>
<g fill="#8aff36"><ellipse cx="138" cy="770" rx="5" ry="4"/><ellipse cx="170" cy="775" rx="8" ry="6"/><ellipse cx="203" cy="774" rx="9" ry="6"/><ellipse cx="226" cy="772" rx="5" ry="4"/><ellipse cx="240" cy="770" rx="4" ry="4"/></g>
<rect x="246" y="749" width="114" height="76" fill="#030408"/>
<rect x="246" y="772" width="114" height="10" fill="#1a28c0"/>
<rect x="246" y="782" width="114" height="28" fill="#0e1808"/>
<rect x="246" y="810" width="114" height="15" fill="#1a28c0"/>
<g fill="#8aff36"><ellipse cx="268" cy="775" rx="5" ry="3"/><ellipse cx="292" cy="776" rx="6" ry="3"/><ellipse cx="312" cy="779" rx="6" ry="4"/><ellipse cx="340" cy="777" rx="7" ry="4"/></g>
<rect x="362" y="749" width="115" height="76" fill="#030408"/>
<rect x="362" y="768" width="115" height="10" fill="#0e1a26"/>
<rect x="362" y="778" width="115" height="30" fill="#16300f"/>
<rect x="362" y="808" width="115" height="17" fill="#1826b0"/>
<g fill="#8aff36"><ellipse cx="391" cy="770" rx="4" ry="4"/><ellipse cx="412" cy="771" rx="3" ry="3"/><ellipse cx="440" cy="770" rx="3" ry="3"/><ellipse cx="472" cy="769" rx="4" ry="4"/></g>
<!-- row3 -->
<rect x="14" y="827" width="114" height="76" fill="#060820"/>
<rect x="14" y="827" width="114" height="41" fill="#2030d0"/>
<rect x="14" y="868" width="114" height="5" fill="#0e1420"/>
<rect x="14" y="873" width="114" height="4" fill="#304818"/>
<rect x="14" y="877" width="114" height="11" fill="#58c820"/>
<rect x="130" y="827" width="114" height="76" fill="#040820"/>
<rect x="130" y="827" width="114" height="16" fill="#1828a8"/>
<rect x="130" y="843" width="114" height="7" fill="#0c1020"/>
<rect x="130" y="850" width="114" height="18" fill="#1a2ea0"/>
<rect x="130" y="868" width="114" height="5" fill="#2040e0"/>
<rect x="130" y="873" width="114" height="7" fill="#2a5010"/>
<rect x="130" y="880" width="114" height="7" fill="#60d020"/>
<rect x="246" y="827" width="114" height="76" fill="#040818"/>
<rect x="246" y="827" width="114" height="11" fill="#1828b0"/>
<rect x="246" y="838" width="114" height="30" fill="#1c34b8"/>
<rect x="246" y="868" width="114" height="5" fill="#101828"/>
<rect x="246" y="873" width="114" height="11" fill="#58c020"/>
<rect x="362" y="827" width="115" height="76" fill="#040818"/>
<rect x="362" y="827" width="115" height="23" fill="#1c30c8"/>
<rect x="362" y="850" width="115" height="10" fill="#101830"/>
<rect x="362" y="860" width="115" height="8" fill="#182860"/>
<rect x="362" y="868" width="115" height="10" fill="#62e020"/>
<rect x="362" y="878" width="115" height="6" fill="#304010"/>
<g font-size="9.5" fill="#e6d21e">
<text x="16" y="686">ONL</text><text x="16" y="701">IS</text><text x="16" y="714">OS</text><text x="16" y="727">RPE</text>
<text x="16" y="778">GCL</text><text x="16" y="799">IPL</text><text x="16" y="822">INL</text>
<text x="16" y="840">OPL</text><text x="16" y="857">ONL</text><text x="16" y="868">IS</text><text x="16" y="876">OS</text><text x="16" y="884">RPE</text>
</g>
<g font-size="8.5" fill="#fff" text-anchor="end">
<text x="474" y="737">30 μm</text><text x="474" y="816">30 μm</text><text x="474" y="895">30 μm</text>
</g>
<path d="M454,740 H473 M454,819 H473 M454,898 H473" stroke="#fff" stroke-width="1.3"/>

<!-- ===== Panel L ===== -->
<text x="511" y="694" font-size="15" font-weight="bold">L</text>
<g stroke-width="1.5" fill="#fff">
<rect x="550.5" y="749.5" width="19" height="74.5" stroke="#7646b0"/>
<rect x="579.5" y="782.5" width="19" height="41.5" stroke="#a3b38f"/>
<rect x="618.5" y="752.6" width="19" height="71.4" stroke="#7646b0"/>
<rect x="645.5" y="812.5" width="19" height="11.5" stroke="#a3b38f"/>
</g>
<g fill="#b49ad8"><circle cx="560" cy="741" r="2.6"/><circle cx="554" cy="747" r="2.6"/><circle cx="565" cy="748" r="2.6"/><circle cx="560" cy="757" r="2.6"/>
<circle cx="623" cy="746" r="2.6"/><circle cx="633" cy="746" r="2.6"/><circle cx="619" cy="757" r="2.6"/><circle cx="628" cy="757" r="2.6"/></g>
<g fill="#9cbd7c"><rect x="586" y="766" width="5" height="5"/><rect x="580" y="777" width="5" height="5"/><rect x="592" y="784" width="5" height="5"/><rect x="586" y="790" width="5" height="5"/>
<rect x="652.5" y="802" width="5" height="5"/><rect x="647.5" y="815.5" width="5" height="5"/><rect x="657.5" y="815.5" width="5" height="5"/><rect x="653" y="810" width="5" height="5"/></g>
<path d="M555,746.3H565 M560,746.3V752.7 M555,752.7H565 M623,749.4H633 M628,749.4V755.8 M623,755.8H633" stroke="#7646b0" stroke-width="1.2"/>
<path d="M584,776.7H594 M589,776.7V788.3 M584,788.3H594 M650,809.3H660 M655,809.3V815.7 M650,815.7H660" stroke="#8a9a78" stroke-width="1.2"/>
<path d="M540,719 V824 H676" stroke="#000" stroke-width="1.3" fill="none"/>
<path d="M536,719 H540 M536,740 H540 M536,761 H540 M536,782 H540 M536,803 H540 M536,824 H540 M560,824V828 M589,824V828 M628,824V828 M655,824V828" stroke="#000" stroke-width="1.3"/>
<g font-size="12" text-anchor="end">
<text x="534" y="723">10</text><text x="534" y="744">8</text><text x="534" y="765">6</text><text x="534" y="786">4</text><text x="534" y="807">2</text><text x="534" y="828">0</text>
</g>
<text transform="translate(502,770) rotate(-90)" text-anchor="middle" font-size="12">Relative intensity of</text>
<text transform="translate(517,770) rotate(-90)" text-anchor="middle" font-size="12">RPE65 (A.U.)</text>
<g font-size="11.5" text-anchor="end">
<text transform="translate(562,838) rotate(-45)">WT+DMSO</text>
<text transform="translate(591,838) rotate(-45)">WT+Aβ</text>
<text transform="translate(630,838) rotate(-45)">KO+DMSO</text>
<text transform="translate(657,838) rotate(-45)">KO+Aβ</text>
</g>
<g font-size="10" text-anchor="middle">
<text x="576" y="722" textLength="44" lengthAdjust="spacingAndGlyphs">P = 0.0003</text>
<text x="619" y="705" textLength="44" lengthAdjust="spacingAndGlyphs">P = 0.0008</text>
<text x="644" y="735" textLength="43" lengthAdjust="spacingAndGlyphs">P &lt; 0.0001</text>
</g>
<path d="M560,728.5 H592 M592,711 H649 M627,740.5 H659" stroke="#555" stroke-width="1"/>

<!-- ===== Panel M ===== -->
<text x="702" y="694" font-size="15" font-weight="bold">M</text>
<g stroke-width="1.5" fill="#fff">
<rect x="742.5" y="739.4" width="19" height="80.6" stroke="#7646b0"/>
<rect x="769.5" y="773.4" width="19" height="46.6" stroke="#a3b38f"/>
<rect x="809.5" y="739.4" width="19" height="80.6" stroke="#7646b0"/>
<rect x="836.5" y="796" width="19" height="24" stroke="#a3b38f"/>
</g>
<g fill="#b49ad8"><circle cx="748" cy="734" r="2.6"/><circle cx="757" cy="733" r="2.6"/><circle cx="746" cy="746" r="2.6"/><circle cx="756" cy="746" r="2.6"/>
<circle cx="815" cy="730" r="2.6"/><circle cx="824" cy="729" r="2.6"/><circle cx="811" cy="743" r="2.6"/><circle cx="819" cy="755" r="2.6"/></g>
<g fill="#9cbd7c"><rect x="776.5" y="753.5" width="5" height="5"/><rect x="768.5" y="773.5" width="5" height="5"/><rect x="776.5" y="772.5" width="5" height="5"/><rect x="776.5" y="784.5" width="5" height="5"/>
<rect x="835.5" y="790.5" width="5" height="5"/><rect x="843.5" y="791.5" width="5" height="5"/><rect x="851.5" y="791.5" width="5" height="5"/><rect x="843.5" y="799.5" width="5" height="5"/></g>
<path d="M747,736.4H757 M752,736.4V742.4 M747,742.4H757 M814,734.1H824 M819,734.1V744.7 M814,744.7H824" stroke="#7646b0" stroke-width="1.2"/>
<path d="M774,767H784 M779,767V779.8 M774,779.8H784 M841,794.4H851 M846,794.4V797.6 M841,797.6H851" stroke="#8a9a78" stroke-width="1.2"/>
<path d="M731,714 V820 H866" stroke="#000" stroke-width="1.3" fill="none"/>
<path d="M727,714 H731 M727,735.2 H731 M727,756.4 H731 M727,777.6 H731 M727,798.8 H731 M727,820 H731 M752,820V824 M779,820V824 M819,820V824 M846,820V824" stroke="#000" stroke-width="1.3"/>
<g font-size="12" text-anchor="end">
<text x="725" y="718">10</text><text x="725" y="739.2">8</text><text x="725" y="760.4">6</text><text x="725" y="781.6">4</text><text x="725" y="802.8">2</text><text x="725" y="824">0</text>
</g>
<text transform="translate(710,770) rotate(-90)" text-anchor="middle" font-size="12">TUJ1<tspan font-size="8" dy="-4">+</tspan><tspan dy="4"> area (%)</tspan></text>
<g font-size="11.5" text-anchor="end">
<text transform="translate(754,834) rotate(-45)">WT+DMSO</text>
<text transform="translate(781,834) rotate(-45)">WT+Aβ</text>
<text transform="translate(821,834) rotate(-45)">KO+DMSO</text>
<text transform="translate(848,834) rotate(-45)">KO+Aβ</text>
</g>
<g font-size="10" text-anchor="middle">
<text x="768" y="717" textLength="43" lengthAdjust="spacingAndGlyphs">P = 0.0013</text>
<text x="813" y="690" textLength="43" lengthAdjust="spacingAndGlyphs">P = 0.0215</text>
<text x="835" y="712" textLength="43" lengthAdjust="spacingAndGlyphs">P &lt; 0.0001</text>
</g>
<path d="M751,723.5 H784 M780,696.5 H845 M819,719.5 H852" stroke="#555" stroke-width="1"/>

<!-- ===== Panel N ===== -->
<text x="6" y="933" font-size="15" font-weight="bold">N</text>
<g stroke-width="1.5" fill="#fff">
<rect x="60.5" y="994" width="19" height="70" stroke="#7646b0"/>
<rect x="87.5" y="996.6" width="19" height="67.4" stroke="#a3b38f"/>
<rect x="127.5" y="993.1" width="19" height="70.9" stroke="#7646b0"/>
<rect x="154.5" y="1001.5" width="19" height="62.5" stroke="#a3b38f"/>
</g>
<g fill="#b49ad8"><circle cx="70" cy="969" r="2.6"/><circle cx="70" cy="990" r="2.6"/><circle cx="70" cy="1003" r="2.6"/><circle cx="70" cy="1012" r="2.6"/>
<circle cx="137" cy="973" r="2.6"/><circle cx="137" cy="986" r="2.6"/><circle cx="137" cy="996" r="2.6"/><circle cx="137" cy="1022" r="2.6"/></g>
<g fill="#9cbd7c"><rect x="94.5" y="979.5" width="5" height="5"/><rect x="89.5" y="1002.5" width="5" height="5"/><rect x="97.5" y="1002.5" width="5" height="5"/><rect x="94.5" y="993.5" width="5" height="5"/>
<rect x="161.5" y="985.5" width="5" height="5"/><rect x="161.5" y="1010.5" width="5" height="5"/><rect x="161.5" y="995.5" width="5" height="5"/><rect x="158.5" y="1000.5" width="5" height="5"/></g>
<path d="M65,984.4H75 M70,984.4V1003.6 M65,1003.6H75 M132,982.6H142 M137,982.6V1003.6 M132,1003.6H142" stroke="#7646b0" stroke-width="1.2"/>
<path d="M92,991.3H102 M97,991.3V1001.9 M92,1001.9H102 M159,996.2H169 M164,996.2V1006.8 M159,1006.8H169" stroke="#8a9a78" stroke-width="1.2"/>
<path d="M50,959 V1064 H185" stroke="#000" stroke-width="1.3" fill="none"/>
<path d="M46,959 H50 M46,994 H50 M46,1029 H50 M46,1064 H50 M70,1064V1068 M97,1064V1068 M137,1064V1068 M164,1064V1068" stroke="#000" stroke-width="1.3"/>
<g font-size="12" text-anchor="end">
<text x="44" y="963">6</text><text x="44" y="998">4</text><text x="44" y="1033">2</text><text x="44" y="1068">0</text>
</g>
<text transform="translate(19,1009) rotate(-90)" text-anchor="middle" font-size="12">Relative intensity of</text>
<text transform="translate(34,1009) rotate(-90)" text-anchor="middle" font-size="12">Rhodopsin (A.U.)</text>
<g font-size="11.5" text-anchor="end">
<text transform="translate(72,1078) rotate(-45)">WT+DMSO</text>
<text transform="translate(99,1078) rotate(-45)">WT+Aβ</text>
<text transform="translate(139,1078) rotate(-45)">KO+DMSO</text>
<text transform="translate(166,1078) rotate(-45)">KO+Aβ</text>
</g>
<g font-size="9" text-anchor="middle">
<text x="85" y="956">ns</text><text x="153" y="959">ns</text><text x="133" y="938">ns</text>
</g>
<path d="M69,959.5 H101 M136,962.5 H169 M100,941 H165" stroke="#555" stroke-width="1"/>
</svg>
</body></html>
